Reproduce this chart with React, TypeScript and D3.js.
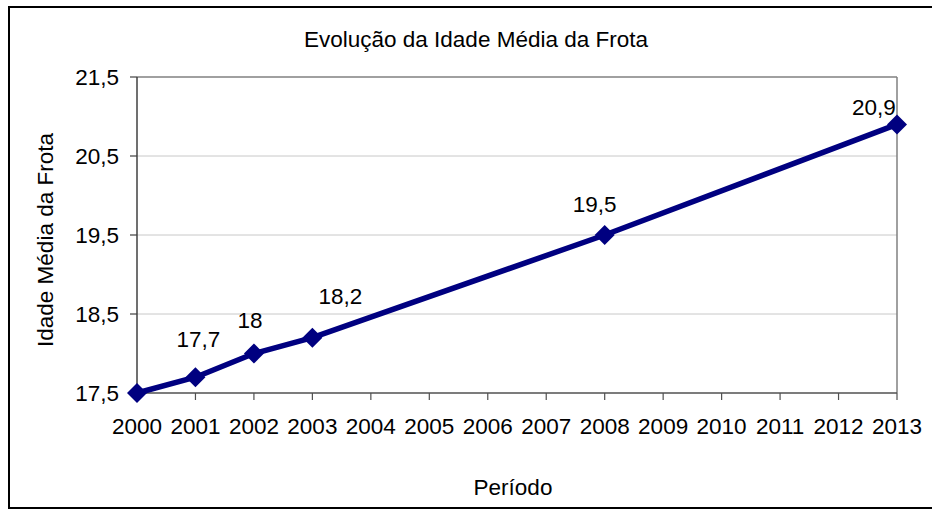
import React from "react";
import * as d3 from "d3";

const categories = ["2000","2001","2002","2003","2004","2005","2006","2007","2008","2009","2010","2011","2012","2013"];
const pointYears = ["2000","2001","2002","2003","2008","2013"];
const pointValues = [17.5, 17.7, 18, 18.2, 19.5, 20.9];
const pointLabels = ["", "17,7", "18", "18,2", "19,5", "20,9"];
const yTicks = [17.5, 18.5, 19.5, 20.5, 21.5];
const yTickLabels = ["17,5", "18,5", "19,5", "20,5", "21,5"];

// label placement offsets (style)
const labelDx = [0, 3, -4, 28, -10, -23];
const labelDy = [0, -30, -25.5, -34, -23, -9];

const W = 932, H = 510;
const left = 137, right = 897, top = 77, bottom = 393;
const FONT = "'Liberation Sans', Arial, sans-serif";
const FS = 22.5;

export default function App() {
  const x = d3.scalePoint<string>().domain(categories).range([left, right]);
  const y = d3.scaleLinear().domain([17.5, 21.5]).range([bottom, top]);
  const line = d3.line<number>()
    .x((_, i) => x(pointYears[i]) as number)
    .y((d) => y(d));
  const diamond = (cx: number, cy: number, r: number) =>
    `M${cx},${cy - r}L${cx + r},${cy}L${cx},${cy + r}L${cx - r},${cy}Z`;

  return (
    <svg width={W} height={H} style={{ position: "absolute", left: 0, top: 0, background: "#fff" }}
      fontFamily={FONT}>
      <rect x={0} y={0} width={W} height={H} fill="#fff" />
      <rect x={9} y={7} width={940} height={501} fill="none" stroke="#000" strokeWidth={2} />
      {/* gridlines */}
      {yTicks.slice(1, -1).map((t) => (
        <line key={t} x1={left} x2={right} y1={y(t)} y2={y(t)} stroke="#c8c8c8" strokeWidth={1} />
      ))}
      {/* plot border */}
      <line x1={left} x2={right} y1={top} y2={top} stroke="#808080" strokeWidth={1.5} />
      <line x1={right} x2={right} y1={top} y2={bottom} stroke="#808080" strokeWidth={1.5} />
      {/* axes */}
      <line x1={left} x2={left} y1={top} y2={bottom} stroke="#404040" strokeWidth={1.5} />
      <line x1={left} x2={right} y1={bottom} y2={bottom} stroke="#505050" strokeWidth={1.5} />
      {yTicks.map((t, i) => (
        <g key={t}>
          <line x1={left - 7} x2={left} y1={y(t)} y2={y(t)} stroke="#404040" strokeWidth={1.2} />
          <text x={119} y={y(t)} dy="0.36em" textAnchor="end" fontSize={FS} fill="#000">{yTickLabels[i]}</text>
        </g>
      ))}
      {categories.map((c) => (
        <g key={c}>
          <line x1={x(c)} x2={x(c)} y1={bottom} y2={bottom + 7} stroke="#505050" strokeWidth={1.2} />
          <text x={x(c)} y={434} textAnchor="middle" fontSize={FS} fill="#000">{c}</text>
        </g>
      ))}
      {/* series */}
      <path d={line(pointValues) || ""} fill="none" stroke="#000080" strokeWidth={5.5} strokeLinejoin="round" />
      {pointValues.map((v, i) => (
        <path key={i} d={diamond(x(pointYears[i]) as number, y(v), 10)} fill="#000080" />
      ))}
      {pointValues.map((v, i) =>
        pointLabels[i] ? (
          <text key={"l" + i} x={(x(pointYears[i]) as number) + labelDx[i]} y={y(v) + labelDy[i]}
            textAnchor="middle" fontSize={FS} fill="#000">{pointLabels[i]}</text>
        ) : null
      )}
      {/* titles */}
      <text x={476} y={47} textAnchor="middle" fontSize={FS} fill="#000">Evolução da Idade Média da Frota</text>
      <text x={513} y={495} textAnchor="middle" fontSize={FS} fill="#000">Período</text>
      <text transform={`translate(53,240) rotate(-90)`} textAnchor="middle" fontSize={FS} fill="#000">Idade Média da Frota</text>
    </svg>
  );
}
